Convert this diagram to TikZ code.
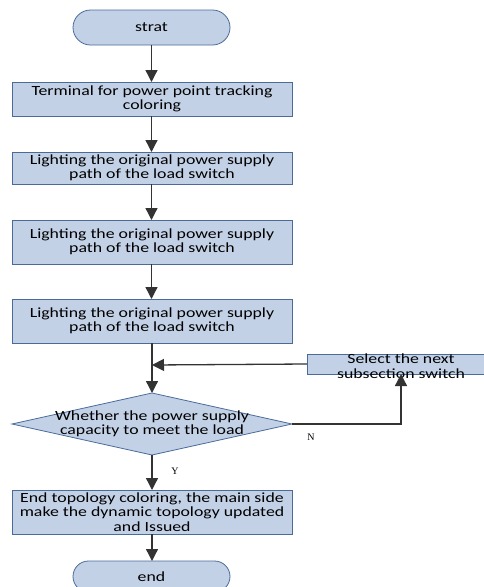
\documentclass[tikz,border=0pt]{standalone}
\usepackage{fontspec}
\setmainfont{Carlito}
\newfontfamily\boxfont[FakeStretch=1.27]{Carlito}
\newfontfamily\serifY{Liberation Serif}
\usetikzlibrary{shapes.geometric,arrows.meta}
\definecolor{boxfill}{HTML}{C3D1E6}
\definecolor{boxdraw}{HTML}{4A6B9A}
\begin{document}
\begin{tikzpicture}[x=1pt,y=-1pt,
  every node/.style={inner sep=0pt,outer sep=0pt},
  procbox/.style={draw=boxdraw,fill=boxfill,line width=0.8pt,rectangle,minimum width=#1},
  txt/.style={font=\boxfont\fontsize{14}{14.5}\selectfont,align=center},
  arr/.style={draw=black!80,line width=1.3pt,-{Triangle[length=12pt,width=12pt]}},
  ln/.style={draw=black!80,line width=1.3pt},
  yn/.style={font=\serifY\fontsize{10}{12}\selectfont}
]
\useasboundingbox (0,0) rectangle (483,587);
% terminal strat
\node[draw=boxdraw,fill=boxfill,line width=0.8pt,rounded corners=17.5pt,minimum width=157,minimum height=35,txt] (strat) at (151.5,27.5) {strat};
\node[procbox=280,minimum height=34,txt] (b1) at (152,99) {Terminal for power point tracking\\coloring};
\node[procbox=280,minimum height=32,txt] (b2) at (152,168) {Lighting the original power supply\\path of the load switch};
\node[procbox=280,minimum height=44,txt] (b3) at (152,242) {Lighting the original power supply\\path of the load switch};
\node[procbox=280,minimum height=44,txt] (b4) at (152,321) {Lighting the original power supply\\path of the load switch};
\coordinate (J) at (152,365);
\node[procbox=188,minimum height=20] (sel) at (401,364) {};
\node[txt] (seltxt) at (401,366) {Select the next\\subsection switch};
\node[draw=boxdraw,fill=boxfill,line width=0.8pt,diamond,aspect=4.5,minimum width=280,minimum height=62] (dia) at (152,424) {};
\node[txt] (diatxt) at (152,424) {Whether the power supply\\capacity to meet the load};
\node[procbox=280,minimum height=44,txt] (b5) at (152,512) {End topology coloring, the main side\\make the dynamic topology updated\\and Issued};
\node[draw=boxdraw,fill=boxfill,line width=0.8pt,rounded corners=15.5pt,minimum width=157,minimum height=31,txt] (endn) at (151.5,576.5) {end};
% connectors
\draw[arr] (strat.south) -- (strat.south |- b1.north);
\draw[arr] (strat.south |- b1.south) -- (strat.south |- b2.north);
\draw[arr] (strat.south |- b2.south) -- (strat.south |- b3.north);
\draw[arr] (strat.south |- b3.south) -- (strat.south |- b4.north);
\draw[ln] (J |- b4.south) -- (J);
\draw[arr] (J) -- (dia.north);
\draw[arr] (sel.west) -- (J);
\draw[arr] (dia.east) -| (sel.south);
\draw[arr] (dia.south) -- (dia.south |- b5.north);
\draw[arr] (dia.south |- b5.south) -- (dia.south |- endn.north);
\node[yn] (N) at (311,437) {N};
\node[yn] (Y) at (175,471) {Y};
\end{tikzpicture}
\end{document}
